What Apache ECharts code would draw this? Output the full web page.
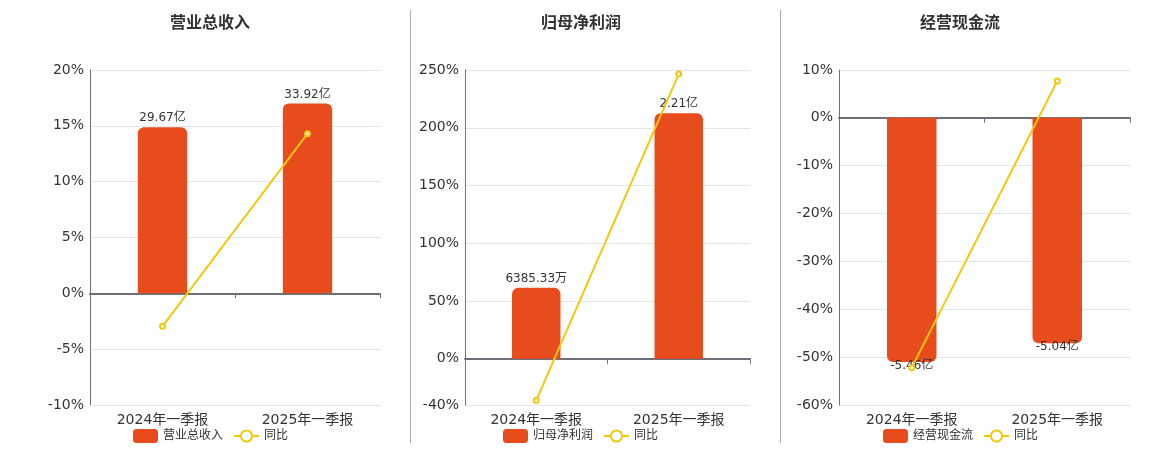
<!DOCTYPE html>
<html>
<head>
<meta charset="utf-8">
<script src="https://cdn.jsdelivr.net/npm/echarts@6/dist/echarts.min.js"></script>
<style>
html,body{margin:0;padding:0;background:#fff;}
#main{width:1160px;height:450px;}
</style>
</head>
<body>
<div id="main"></div>
<script>
// ---- data ----
var categories = ['2024年一季报', '2025年一季报'];
var titles = ['营业总收入', '归母净利润', '经营现金流'];
// values in 亿元
var revenueValues = [29.67, 33.92];
var profitValues = [0.638533, 2.21];
var cashflowValues = [-5.46, -5.04];
// year-on-year growth, %
var revenueYoY = [-2.95, 14.3];
var profitYoY = [-36.0, 246.5];
var cashflowYoY = [-52.2, 7.7];
// percent axis ranges
var pctMin = [-10, -40, -60];
var pctMax = [20, 250, 10];
var pctInterval = [5, null, 10];

var FONT = "'DejaVu Sans', 'Noto Sans CJK SC', sans-serif";
var BAR_COLOR = '#E84B1C';
var LINE_COLOR = '#F2C80F';

var panels = [
  {bars: revenueValues, yoy: revenueYoY, gridLeft: 90, gridRight: 780, center: 205, legendLeft: 128},
  {bars: profitValues, yoy: profitYoY, gridLeft: 465, gridRight: 410, center: 576, legendLeft: 498},
  {bars: cashflowValues, yoy: cashflowYoY, gridLeft: 839, gridRight: 30, center: 955, legendLeft: 878}
];

function fmtMoney(v) {
  if (Math.abs(v) < 1) return (v * 10000).toFixed(2) + '万';
  return v.toFixed(2) + '亿';
}

var option = {
  animation: false,
  textStyle: {fontFamily: FONT},
  title: [], legend: [], grid: [], xAxis: [], yAxis: [], series: [],
  graphic: [
    {type: 'line', shape: {x1: 410.5, y1: 10, x2: 410.5, y2: 443}, style: {stroke: '#aaaaaa', lineWidth: 1}},
    {type: 'line', shape: {x1: 780.5, y1: 10, x2: 780.5, y2: 443}, style: {stroke: '#aaaaaa', lineWidth: 1}}
  ]
};

panels.forEach(function (p, i) {
  var pMin = pctMin[i], pMax = pctMax[i];
  // hidden bar axis aligned so that zero matches the percent axis zero
  var maxAbs = Math.max.apply(null, p.bars.map(Math.abs));
  var span = pMax > Math.abs(pMin) ? pMax : Math.abs(pMin);
  var scale = (maxAbs / 0.85) / span; // 亿 per percentage point
  var bMin = pMin * scale, bMax = pMax * scale;
  var negative = p.bars[0] < 0;

  option.title.push({
    text: titles[i], left: p.center, top: 11, textAlign: 'center',
    textStyle: {fontSize: 16, fontWeight: 'bold', color: '#333', fontFamily: FONT}
  });
  option.legend.push({
    left: p.legendLeft, top: 424, itemWidth: 25, itemHeight: 14, itemGap: 10,
    textStyle: {fontSize: 12, color: '#333', fontFamily: FONT},
    data: [titles[i], {name: '同比'}]
  });
  option.grid.push({left: p.gridLeft, right: p.gridRight, top: 70, bottom: 45, containLabel: false});
  option.xAxis.push({
    type: 'category', gridIndex: i, data: categories,
    axisLine: {onZero: true, onZeroAxisIndex: i * 2, lineStyle: {color: '#6e7079', width: 2}},
    axisTick: {show: true, lineStyle: {color: '#6e7079'}},
    axisLabel: {fontSize: 14, color: '#333', margin: 8, fontFamily: FONT}
  });
  var yPct = {
    type: 'value', gridIndex: i, min: pMin, max: pMax,
    axisLine: {show: true, lineStyle: {color: '#6e7079'}},
    axisTick: {show: false},
    splitLine: {show: true, lineStyle: {color: '#e0e6f1'}},
    axisLabel: {fontSize: 14, color: '#333', margin: 6, formatter: '{value}%', fontFamily: FONT}
  };
  if (pctInterval[i] != null) yPct.interval = pctInterval[i]; else yPct.splitNumber = 5;
  option.yAxis.push(yPct);
  option.yAxis.push({type: 'value', gridIndex: i, min: bMin, max: bMax, show: false, splitLine: {show: false}});

  option.series.push({
    name: titles[i], type: 'bar', xAxisIndex: i, yAxisIndex: i * 2 + 1,
    data: p.bars, barWidth: '34%',
    itemStyle: {color: BAR_COLOR, borderRadius: negative ? [0, 0, 6, 6] : [6, 6, 0, 0]},
    label: {
      show: true, position: negative ? 'bottom' : 'top', distance: negative ? -2 : 3,
      fontSize: 12, color: '#333', fontFamily: FONT,
      formatter: function (d) { return fmtMoney(d.value); }
    },
    z: 2
  });
  option.series.push({
    name: '同比', type: 'line', xAxisIndex: i, yAxisIndex: i * 2,
    data: p.yoy, symbol: 'emptyCircle', symbolSize: 5,
    lineStyle: {color: LINE_COLOR, width: 2},
    itemStyle: {color: LINE_COLOR, borderColor: LINE_COLOR, borderWidth: 2},
    z: 5
  });
});

var chart = echarts.init(document.getElementById('main'), null, {renderer: 'canvas'});
chart.setOption(option);
</script>
</body>
</html>
